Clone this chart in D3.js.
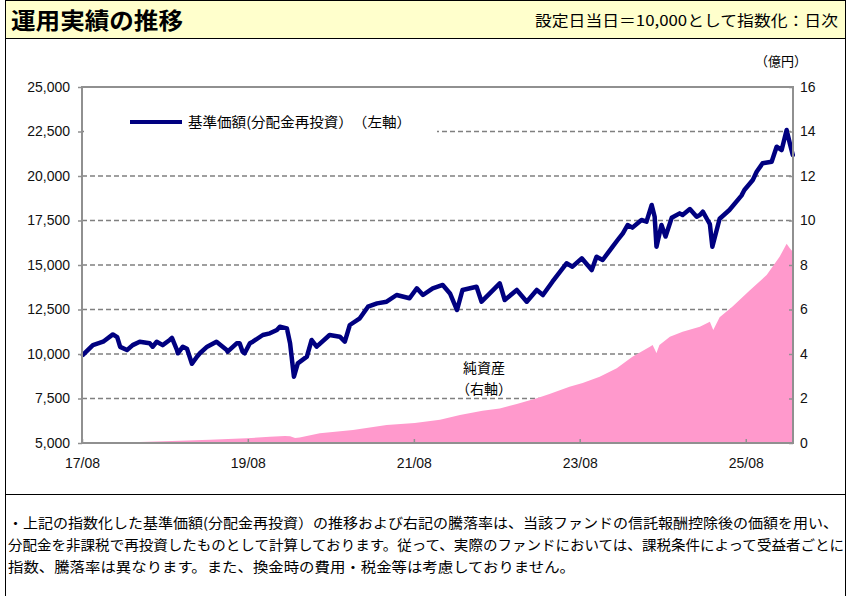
<!DOCTYPE html>
<html>
<head>
<meta charset="utf-8">
<script src="https://cdn.jsdelivr.net/npm/d3@7"></script>
<style>
  body { margin: 0; background: #fff; }
  svg { display: block; }
  .jp { font-family: "Noto Sans CJK JP", "Noto Sans", sans-serif; }
  .num { font-family: "Liberation Sans", Arial, sans-serif; }
</style>
</head>
<body>
<script>
// 基準価額（分配金再投資）, indexed to 10,000
const navDates = [
  "2017-08-05","2017-09-18","2017-11-02","2017-12-15","2018-01-03","2018-01-16","2018-02-15","2018-03-12",
  "2018-04-12","2018-05-26","2018-06-08","2018-06-26","2018-07-22","2018-08-22","2018-09-01","2018-09-23",
  "2018-09-27","2018-10-19","2018-11-06","2018-11-28","2018-12-20","2019-01-02","2019-02-03","2019-03-16",
  "2019-04-30","2019-05-04","2019-06-13","2019-06-26","2019-07-09","2019-07-18","2019-08-10","2019-08-23",
  "2019-10-06","2019-11-06","2019-12-07","2019-12-20","2020-01-20","2020-02-03","2020-02-20","2020-03-08",
  "2020-04-17","2020-05-08","2020-05-30","2020-07-26","2020-09-09","2020-10-01","2020-10-23","2020-12-06",
  "2021-01-11","2021-02-20","2021-04-03","2021-05-17","2021-07-13","2021-08-14","2021-09-10","2021-10-23",
  "2021-12-06","2022-01-07","2022-02-07","2022-03-03","2022-05-04","2022-05-26","2022-08-14","2022-09-05",
  "2022-10-28","2022-12-11","2023-01-24","2023-02-20","2023-04-03","2023-06-04","2023-06-30","2023-08-10",
  "2023-09-23","2023-10-14","2023-11-10","2023-12-24","2024-01-15","2024-02-07","2024-02-28","2024-03-20",
  "2024-04-29","2024-05-21","2024-06-13","2024-06-26","2024-07-04","2024-07-26","2024-08-13","2024-09-09",
  "2024-10-14","2024-10-27","2024-11-28","2024-12-28","2025-01-11","2025-01-24","2025-02-15","2025-02-24",
  "2025-03-07","2025-04-08","2025-05-21","2025-07-13","2025-07-26","2025-09-01","2025-09-18","2025-10-14",
  "2025-11-23","2025-12-15","2026-01-06","2026-01-28","2026-02-11","2026-02-24"
];
const navValues = [
  9950, 10500, 10690, 11100, 10950, 10400, 10220, 10500,
  10690, 10600, 10410, 10690, 10500, 10786, 10900, 10225,
  10040, 10410, 10300, 9450, 9850, 10040, 10410, 10690,
  10225, 10130, 10600, 10600, 10130, 10040, 10600, 10690,
  11067, 11162, 11350, 11535, 11440, 10600, 8725, 9476,
  9850, 10787, 10410, 11067, 10972, 10690, 11629, 12005,
  12657, 12845, 12938, 13315, 13130, 13691, 13315, 13691,
  13877, 13400, 12470, 13596, 13781, 12938, 13970, 13034,
  13596, 12938, 13596, 13315, 14062, 15095, 14905, 15376,
  14719, 15466, 15280, 16030, 16405, 16780, 17247, 17100,
  17528, 17434, 18371, 17714, 16030, 17250, 16600, 17650,
  17902, 17809, 18140, 17714, 17809, 17995, 17500, 17300,
  16030, 17600, 18090, 18900, 19215, 19776, 20241, 20713,
  20803, 21646, 21460, 22584, 21834, 21180
];

// 純資産（億円）
const assetDates = [
  "2017-08-01","2018-02-07","2018-04-12","2018-10-05","2019-02-15","2019-07-26","2019-11-06","2020-01-11",
  "2020-02-03","2020-02-25","2020-03-16","2020-06-13","2020-11-06","2021-04-03","2021-08-05","2021-11-24",
  "2022-02-20","2022-05-30","2022-08-14","2022-10-28","2023-01-24","2023-03-21","2023-06-17","2023-08-14",
  "2023-10-28","2024-01-11","2024-03-20","2024-06-05","2024-06-17","2024-07-04","2024-07-17","2024-09-01",
  "2024-10-27","2025-01-11","2025-02-24","2025-03-11","2025-04-08","2025-06-04","2025-08-18","2025-11-01",
  "2025-12-28","2026-01-28","2026-02-11","2026-02-24"
];
const assetValues = [
  0, 0.02, 0.05, 0.10, 0.15, 0.21, 0.28, 0.31,
  0.30, 0.22, 0.25, 0.44, 0.58, 0.81, 0.90, 1.05,
  1.26, 1.45, 1.55, 1.75, 2.01, 2.20, 2.53, 2.70,
  2.98, 3.36, 3.88, 4.33, 4.40, 4.04, 4.40, 4.78,
  5.00, 5.23, 5.45, 5.08, 5.65, 6.13, 6.85, 7.55,
  8.37, 8.95, 8.75, 8.60
];

const leftTicks = [5000, 7500, 10000, 12500, 15000, 17500, 20000, 22500, 25000];
const rightTicks = [0, 2, 4, 6, 8, 10, 12, 14, 16];
const xTickDates = ["2017-08-01", "2019-08-01", "2021-08-01", "2023-08-01", "2025-08-01"];
const xDomain = ["2017-08-01", "2026-02-25"];

const W = 848, H = 596;
const plot = { left: 82, right: 793, top: 87, bottom: 443 };
const parse = d3.timeParse("%Y-%m-%d");

const nav = navDates.map((d, i) => ({ date: parse(d), value: navValues[i] }));
const assets = assetDates.map((d, i) => ({ date: parse(d), value: assetValues[i] }));

const x = d3.scaleTime()
    .domain(xDomain.map(parse))
    .range([plot.left, plot.right]);
const yL = d3.scaleLinear().domain([5000, 25000]).range([plot.bottom, plot.top]);
const yR = d3.scaleLinear().domain([0, 16]).range([plot.bottom, plot.top]);

const svg = d3.select("body").append("svg")
    .attr("width", W)
    .attr("height", H);

// header band and frame
svg.append("rect")
    .attr("x", 5.5).attr("y", 0.5)
    .attr("width", 840).attr("height", 38)
    .attr("fill", "#ffffcc")
    .attr("stroke", "#000").attr("stroke-width", 1);
svg.append("path")
    .attr("d", `M5.5,38.5V${H}M845.5,38.5V${H}M5.5,494.5H845.5`)
    .attr("stroke", "#000").attr("stroke-width", 1).attr("fill", "none");

svg.append("text")
    .attr("class", "jp")
    .attr("x", 11).attr("y", 29)
    .attr("font-size", 23).attr("font-weight", "bold")
    .attr("textLength", 172).attr("lengthAdjust", "spacingAndGlyphs")
    .text("運用実績の推移");
svg.append("text")
    .attr("class", "jp")
    .attr("x", 535).attr("y", 26)
    .attr("font-size", 15)
    .attr("textLength", 303).attr("lengthAdjust", "spacingAndGlyphs")
    .text("設定日当日＝10,000として指数化：日次");

// gridlines (left axis)
svg.append("g")
    .selectAll("line")
    .data(leftTicks.slice(1, -1))
    .join("line")
    .attr("x1", plot.left).attr("x2", plot.right)
    .attr("y1", d => yL(d)).attr("y2", d => yL(d))
    .attr("stroke", "#808080")
    .attr("stroke-width", 1.5)
    .attr("stroke-dasharray", "5,3");

// legend background hides part of the top gridline
svg.append("rect")
    .attr("x", plot.left + 2).attr("y", 108)
    .attr("width", 353).attr("height", 30)
    .attr("fill", "#fff");

// net assets area (right axis)
svg.append("path")
    .datum(assets)
    .attr("fill", "#ff99cc")
    .attr("d", d3.area()
        .x(d => x(d.date))
        .y0(yR(0))
        .y1(d => yR(d.value)));

// NAV line (left axis)
svg.append("path")
    .datum(nav)
    .attr("fill", "none")
    .attr("stroke", "#000080")
    .attr("stroke-width", 4.5)
    .attr("stroke-linejoin", "round")
    .attr("stroke-linecap", "round")
    .attr("d", d3.line()
        .x(d => x(d.date))
        .y(d => yL(d.value)));

// plot frame
svg.append("rect")
    .attr("x", plot.left).attr("y", plot.top)
    .attr("width", plot.right - plot.left)
    .attr("height", plot.bottom - plot.top)
    .attr("fill", "none")
    .attr("stroke", "#909090")
    .attr("stroke-width", 2);

// axes
const styleAxis = g => {
    g.select(".domain").remove();
    g.selectAll(".tick line").attr("stroke", "#909090").attr("stroke-width", 1.5);
    g.selectAll(".tick text")
        .attr("class", "num")
        .attr("font-size", 14)
        .attr("fill", "#111");
};

svg.append("g")
    .attr("transform", `translate(${plot.left},0)`)
    .call(d3.axisLeft(yL).tickValues(leftTicks).tickFormat(d3.format(",")).tickSize(4).tickPadding(8))
    .call(styleAxis);

svg.append("g")
    .attr("transform", `translate(${plot.right},0)`)
    .call(d3.axisRight(yR).tickValues(rightTicks).tickSize(-4).tickPadding(7))
    .call(styleAxis);

svg.append("g")
    .attr("transform", `translate(0,${plot.bottom})`)
    .call(d3.axisBottom(x).tickValues(xTickDates.map(parse)).tickFormat(d3.timeFormat("%y/%m")).tickSize(-4).tickPadding(15))
    .call(styleAxis);

// unit label
svg.append("text")
    .attr("class", "jp")
    .attr("x", 781).attr("y", 66)
    .attr("text-anchor", "middle")
    .attr("font-size", 13)
    .text("（億円）");

// legend
svg.append("line")
    .attr("x1", 130).attr("x2", 182)
    .attr("y1", 122).attr("y2", 122)
    .attr("stroke", "#000080")
    .attr("stroke-width", 4);
svg.append("text")
    .attr("class", "jp")
    .attr("x", 188).attr("y", 127)
    .attr("font-size", 14)
    .attr("textLength", 223).attr("lengthAdjust", "spacingAndGlyphs")
    .text("基準価額(分配金再投資）　（左軸）");

// area label
svg.append("text")
    .attr("class", "jp")
    .attr("x", 484).attr("y", 373)
    .attr("text-anchor", "middle")
    .attr("font-size", 14)
    .text("純資産");
svg.append("text")
    .attr("class", "jp")
    .attr("x", 484).attr("y", 394)
    .attr("text-anchor", "middle")
    .attr("font-size", 14)
    .text("（右軸）");

// footnote
const notes = [
  "・上記の指数化した基準価額(分配金再投資）の推移および右記の騰落率は、当該ファンドの信託報酬控除後の価額を用い、",
  "分配金を非課税で再投資したものとして計算しております。従って、実際のファンドにおいては、課税条件によって受益者ごとに",
  "指数、騰落率は異なります。また、換金時の費用・税金等は考慮しておりません。"
];
const noteWidths = [830, 836, 567];
svg.append("g")
    .selectAll("text")
    .data(notes)
    .join("text")
    .attr("class", "jp")
    .attr("x", 8)
    .attr("y", (d, i) => 528 + i * 22)
    .attr("font-size", 14)
    .attr("textLength", (d, i) => noteWidths[i])
    .attr("lengthAdjust", "spacingAndGlyphs")
    .text(d => d);
</script>
</body>
</html>
